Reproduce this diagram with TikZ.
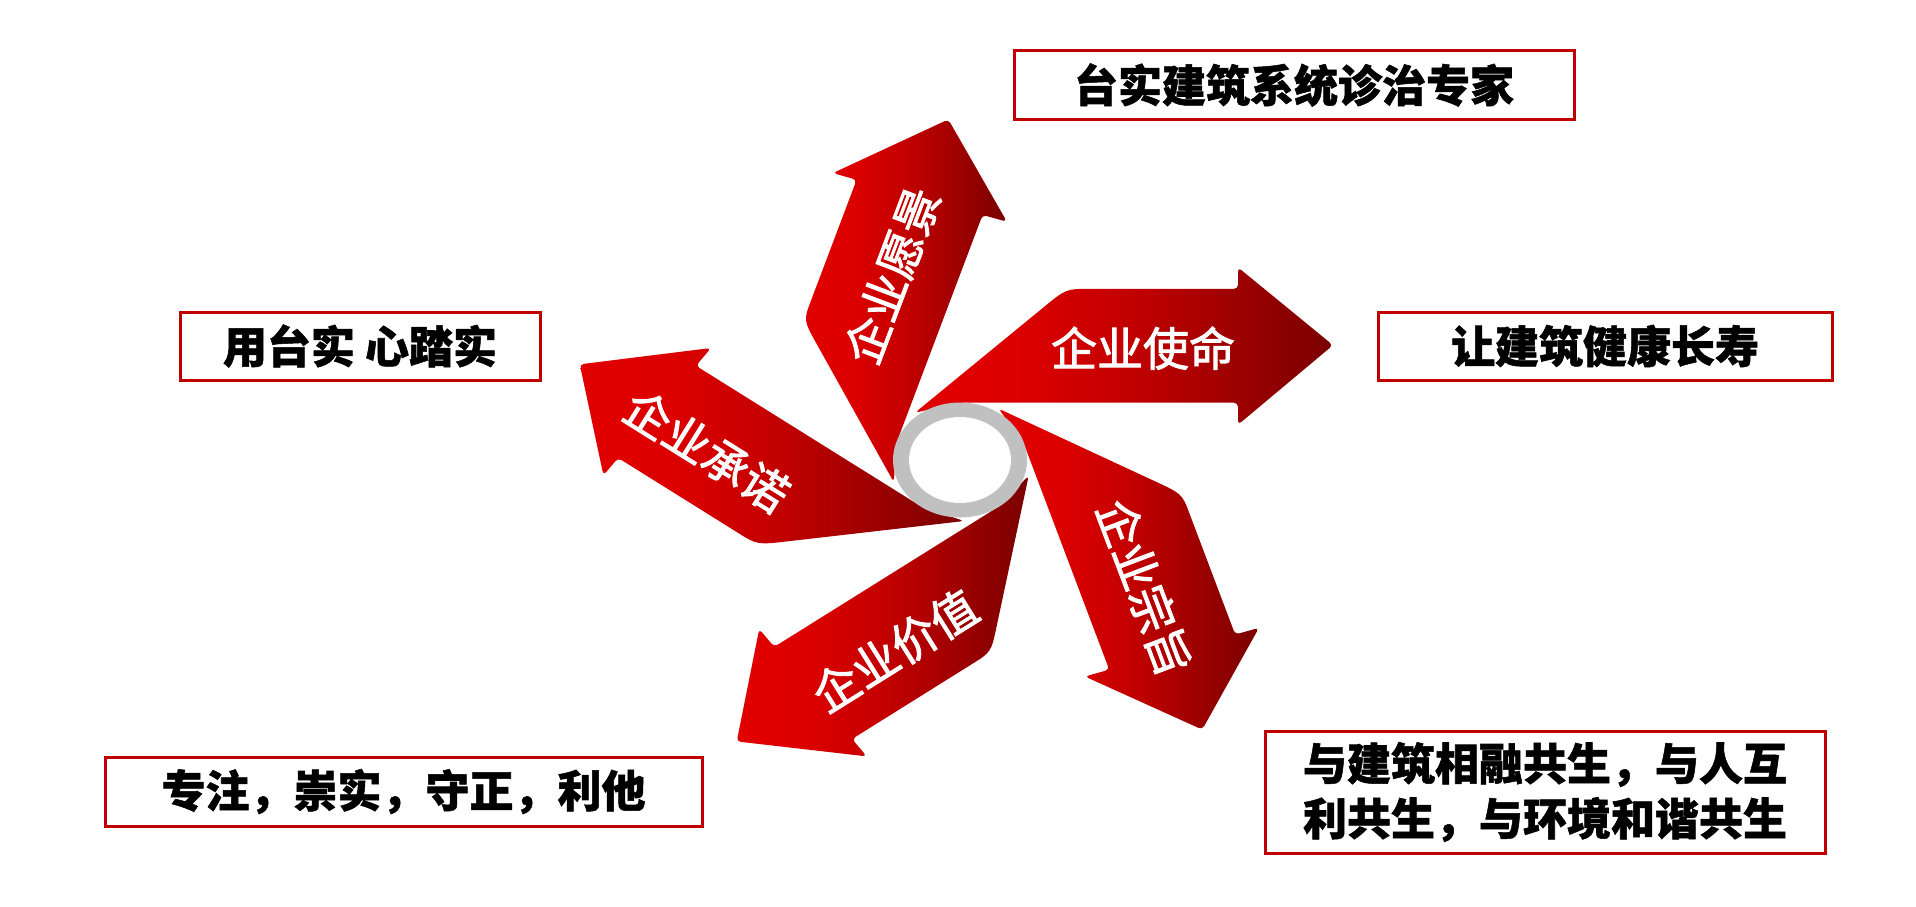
\documentclass[tikz,border=0pt]{standalone}
\usepackage{fontspec}
\newfontfamily\cjk{Noto Sans CJK SC}[BoldFeatures={FakeBold=1.2}]
\newfontfamily\cjkm{Noto Sans CJK SC}[FakeBold=2]
\definecolor{rA}{HTML}{E20000}
\definecolor{rB}{HTML}{DC0000}
\definecolor{rC}{HTML}{C40000}
\definecolor{rD}{HTML}{9E0000}
\definecolor{rE}{HTML}{7A0000}
\definecolor{boxred}{HTML}{C00000}
\definecolor{ringgray}{HTML}{C0C0C0}
\pgfdeclarehorizontalshading{arrowshade}{100bp}{color(0bp)=(rA); color(25bp)=(rA); color(37bp)=(rB); color(50bp)=(rC); color(63bp)=(rD); color(75bp)=(rE); color(100bp)=(rE)}
\tikzset{
  arrowtext/.style={text=white, font=\cjkm\fontsize{46}{50}\selectfont, inner sep=0pt},
  infobox/.style={draw=boxred, line width=3pt, inner sep=0pt, align=center,
    font=\cjk\bfseries\fontsize{44}{55}\selectfont, text=black},
}
\begin{document}
\begin{tikzpicture}[x=1pt,y=1pt]
\useasboundingbox (0,0) rectangle (1916,-907);
\fill[white] (0,0) rectangle (1916,-907);
\coordinate (c) at (960,-460);
% arrows
\foreach \k/\tx/\ty/\ang/\lab in {0/183/130/0/企业使命, 1/183/131/69.3/企业愿景, 2/211/140/-32/企业承诺, 3/183/141/32/企业价值, 4/198/130/-69.3/企业宗旨}{
  \begin{scope}[shift={(960,-460)}, yscale=0.86, rotate=\k*72]
    \shade[shading=arrowshade] (-45,55) -- (83,177) .. controls (106,199) .. (130,199)
      [rounded corners=4] -- (278,199) -- (278,224) -- (373,133.5) -- (278,41) -- (278,66.6) -- (0,66.6) -- cycle;
    \node[arrowtext, rotate=\ang] (t\k) at (\tx,\ty) {\lab};
  \end{scope}
}
% central ring
\fill[ringgray] (c) ellipse [x radius=67, y radius=57.5];
\fill[white] (c) ellipse [x radius=51, y radius=43];
% info boxes
\node[infobox, minimum width=560, minimum height=68] (b1) at (1294,-85) {台实建筑系统诊治专家};
\node[infobox, minimum width=454, minimum height=68] (b2) at (1605,-346) {让建筑健康长寿};
\node[infobox, minimum width=360, minimum height=68] (b3) at (360,-346) {用台实 心踏实};
\node[infobox, minimum width=597, minimum height=69] (b4) at (403.5,-791.5) {专注，崇实，守正，利他};
\node[infobox, minimum width=560, minimum height=122] (b5) at (1545,-792) {与建筑相融共生，与人互\\利共生，与环境和谐共生};
\end{tikzpicture}
\end{document}
